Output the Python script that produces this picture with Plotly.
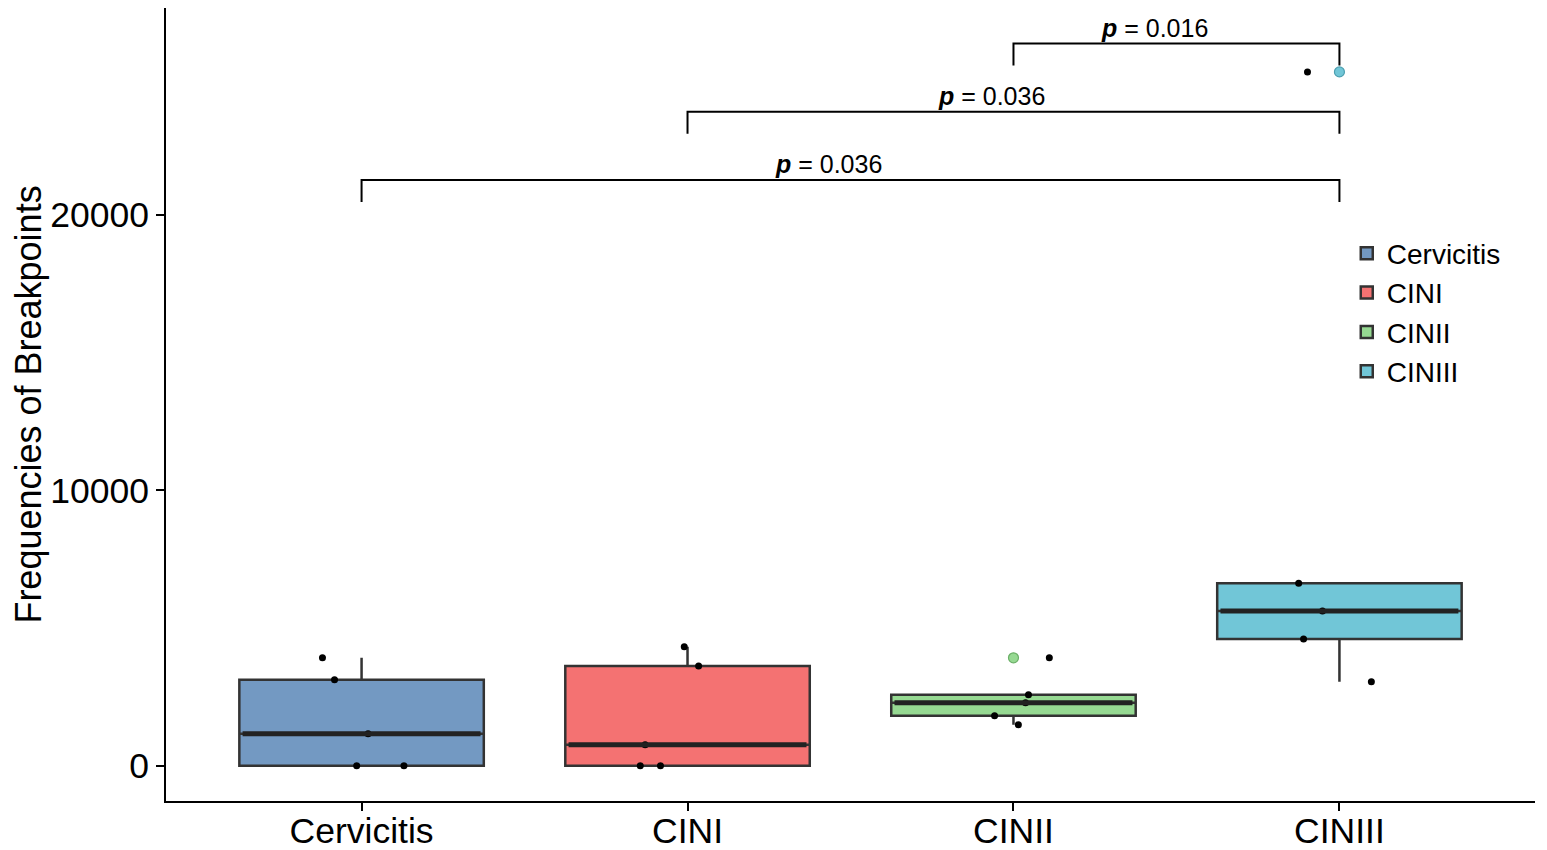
import numpy as np
import plotly.graph_objects as go

categories = ["Cervicitis", "CINI", "CINII", "CINIII"]
cervicitis = [0, 0, 1160, 3120, 3920]
cini = [0, 0, 760, 3620, 4320]
cinii = [1490, 1820, 2290, 2580, 3920]
ciniii = [3050, 4600, 5620, 6630, 25200]
values = [cervicitis, cini, cinii, ciniii]
# horizontal jitter of the black points (category units)
jitter = [
    [-0.015, 0.13, 0.02, -0.083, -0.12],
    [-0.145, -0.083, -0.13, 0.034, -0.01],
    [0.015, -0.058, 0.037, 0.046, 0.11],
    [0.098, -0.11, -0.052, -0.125, -0.098],
]
fills = ["#7399C2", "#F47272", "#96D992", "#71C6D7"]
outlier_edge = ["#4F6F93", "#C45050", "#6BAF67", "#4C9FB0"]

comparisons = [(0, 3, "0.036"), (1, 3, "0.036"), (2, 3, "0.016")]
bracket_y = [21270, 23750, 26230]
bracket_drop = 800

fig = go.Figure()
BW = 0.75
for i, (name, vals) in enumerate(zip(categories, values)):
    fig.add_trace(go.Box(
        y=vals, x0=i, name=name, width=BW,
        fillcolor=fills[i], line=dict(color="#333333", width=2.5),
        whiskerwidth=0, boxpoints="outliers", quartilemethod="inclusive",
        marker=dict(color=fills[i], size=10, line=dict(color=outlier_edge[i], width=1.2)),
        hoverinfo="skip",
    ))
    med = float(np.median(vals))
    fig.add_shape(type="line", x0=i - BW / 2 + 0.01, x1=i + BW / 2 - 0.01, y0=med, y1=med,
                  line=dict(color="#222222", width=5), layer="above")

jx, jy = [], []
for i, vals in enumerate(values):
    for v, j in zip(vals, jitter[i]):
        jx.append(i + j)
        jy.append(v)
fig.add_trace(go.Scatter(x=jx, y=jy, mode="markers", showlegend=False,
                         marker=dict(color="black", size=7), hoverinfo="skip"))

for (a, b, p), yb in zip(comparisons, bracket_y):
    fig.add_shape(type="path",
                  path=f"M {a},{yb - bracket_drop} L {a},{yb} L {b},{yb} L {b},{yb - bracket_drop}",
                  line=dict(color="black", width=2))
    fig.add_annotation(x=(a + b) / 2, y=yb, text=f"<b><i>p</i></b> = {p}", showarrow=False,
                       yanchor="bottom", xshift=-22, yshift=0,
                       font=dict(size=25, color="black", family="Liberation Sans"))

fig.update_layout(
    width=1539, height=842,
    margin=dict(l=158, r=12, t=0, b=49),
    plot_bgcolor="white", paper_bgcolor="white",
    boxmode="overlay",
    font=dict(family="Liberation Sans", color="black"),
    legend=dict(x=0.8625, y=0.722, xanchor="left", yanchor="top",
                font=dict(size=28, color="black"), bgcolor="rgba(0,0,0,0)",
                tracegroupgap=0, itemwidth=30),
    xaxis=dict(range=[-0.6, 3.6], tickvals=list(range(len(categories))), ticktext=categories,
               showgrid=False, zeroline=False, showline=True, linecolor="black", linewidth=2,
               ticks="outside", ticklen=8, tickwidth=2, tickcolor="black", automargin=False,
               ticklabelstandoff=-11,
               tickfont=dict(size=35.5, color="black")),
    yaxis=dict(range=[-1280, 27520], tickvals=[0, 10000, 20000], tickformat="d",
               showgrid=False, zeroline=False, showline=True, linecolor="black", linewidth=2,
               ticks="outside", ticklen=8, tickwidth=2, tickcolor="black", automargin=True,
               tickfont=dict(size=35.5, color="black"),
               title=dict(text="Frequencies of Breakpoints", font=dict(size=36, color="black"),
                          standoff=18)),
)

fig.write_html("out.html")
